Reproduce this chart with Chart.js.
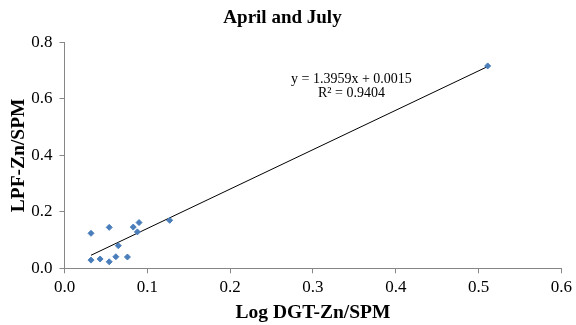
<!DOCTYPE html>
<html>
<head>
<meta charset="utf-8">
<script src="https://cdn.jsdelivr.net/npm/chart.js@4"></script>
<style>
  html, body { margin: 0; padding: 0; background: #ffffff; }
  #wrap { width: 576px; height: 325px; }
</style>
</head>
<body>
<div id="wrap"><canvas id="chart" width="576" height="325"></canvas></div>
<script>
// Scatter values
const dgtValues = [0.032, 0.043, 0.054, 0.062, 0.076, 0.032, 0.054, 0.065, 0.083, 0.090, 0.088, 0.127, 0.511];
const lpfValues = [0.029, 0.033, 0.023, 0.041, 0.040, 0.124, 0.145, 0.080, 0.146, 0.162, 0.129, 0.170, 0.717];

// Trendline as printed on the chart
const slope = 1.3959;
const intercept = 0.0015;
const equationLines = ['y = 1.3959x + 0.0015', 'R\u00b2 = 0.9404'];
const equationAt = [0.3465, 0.671]; // data coords of first line centre

const xTicks = [0, 0.1, 0.2, 0.3, 0.4, 0.5, 0.6];
const yTicks = [0, 0.2, 0.4, 0.6, 0.8];

const serif = "'Liberation Serif', 'Times New Roman', serif";
const axisGrey = '#868686';

const points = dgtValues.map((x, i) => ({ x: x, y: lpfValues[i] }));
const xMin = Math.min(...dgtValues);
const xMax = Math.max(...dgtValues);
const trend = [
  { x: xMin, y: slope * xMin + intercept },
  { x: xMax, y: slope * xMax + intercept }
];

// Draws the regression equation text near the line
const equationLabel = {
  id: 'equationLabel',
  afterDatasetsDraw(chart) {
    const ctx = chart.ctx;
    const px = chart.scales.x.getPixelForValue(equationAt[0]);
    const py = chart.scales.y.getPixelForValue(equationAt[1]);
    ctx.save();
    ctx.font = '14px ' + serif;
    ctx.fillStyle = '#000';
    ctx.textAlign = 'center';
    ctx.textBaseline = 'middle';
    equationLines.forEach((t, i) => ctx.fillText(t, px, py + i * 14));
    ctx.restore();
  }
};

new Chart(document.getElementById('chart'), {
  type: 'scatter',
  data: {
    datasets: [
      {
        label: 'data',
        data: points,
        pointStyle: 'rectRot',
        pointRadius: 3,
        backgroundColor: '#4a7ebb',
        borderColor: '#4a7ebb',
        borderWidth: 1,
        order: 1
      },
      {
        type: 'line',
        label: 'trend',
        data: trend,
        borderColor: '#000',
        borderWidth: 1,
        pointRadius: 0,
        fill: false,
        order: 2
      }
    ]
  },
  options: {
    responsive: false,
    animation: false,
    layout: { padding: { left: 0, right: 11, top: 0, bottom: 0 } },
    plugins: {
      legend: { display: false },
      tooltip: { enabled: false },
      title: {
        display: true,
        text: 'April and July',
        color: '#000',
        font: { family: serif, size: 19, weight: 'bold' },
        padding: { top: 7, bottom: 12.7 }
      }
    },
    scales: {
      x: {
        type: 'linear',
        min: 0,
        max: 0.6,
        afterBuildTicks: s => { s.ticks = xTicks.map(v => ({ value: v })); },
        afterFit: s => { s.height = 56.7; },
        border: { color: axisGrey, width: 1 },
        grid: { drawOnChartArea: false, color: axisGrey, tickLength: 5 },
        ticks: {
          color: '#000',
          padding: 4,
          font: { family: serif, size: 17 },
          callback: v => v.toFixed(1)
        },
        title: {
          display: true,
          text: 'Log DGT-Zn/SPM',
          color: '#000',
          font: { family: serif, size: 19.5, weight: 'bold' },
          padding: { top: 0, bottom: 0.5 }
        }
      },
      y: {
        type: 'linear',
        min: 0,
        max: 0.8,
        afterBuildTicks: s => { s.ticks = yTicks.map(v => ({ value: v })); },
        afterFit: s => { s.width = 64.5; },
        border: { color: axisGrey, width: 1 },
        grid: { drawOnChartArea: false, color: axisGrey, tickLength: 5 },
        ticks: {
          color: '#000',
          padding: 7,
          font: { family: serif, size: 17 },
          callback: v => v.toFixed(1)
        },
        title: {
          display: true,
          text: 'LPF-Zn/SPM',
          color: '#000',
          font: { family: serif, size: 19.5, weight: 'bold' },
          padding: { top: 7, bottom: 0 }
        }
      }
    }
  },
  plugins: [equationLabel]
});
</script>
</body>
</html>
